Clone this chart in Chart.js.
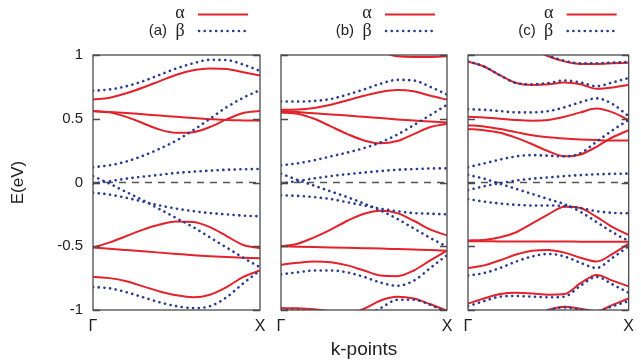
<!DOCTYPE html>
<html>
<head>
<meta charset="utf-8">
<script src="https://cdn.jsdelivr.net/npm/chart.js@4.4.1/dist/chart.umd.min.js"></script>
<style>
  html, body { margin: 0; padding: 0; background: #fff; }
  #wrap { position: relative; width: 641px; height: 362px; }
  #wrap canvas { position: absolute; left: 0; top: 0; }
</style>
</head>
<body>
<div id="wrap">
  <canvas id="panel-a" width="641" height="362"></canvas>
  <canvas id="panel-b" width="641" height="362"></canvas>
  <canvas id="panel-c" width="641" height="362"></canvas>
</div>
<script>
// k along Γ -> X, as a fraction of the path
const K = [0, 0.1, 0.2, 0.3, 0.4, 0.5, 0.6, 0.7, 0.8, 0.9, 1];
const K_TICKS = [0, 1];
const K_TICK_LABELS = ['Γ', 'X'];
const E_TICKS = [-1, -0.5, 0, 0.5, 1];
const E_TICK_LABELS = ['-1', '-0.5', '0', '0.5', '1'];
const ZERO = [0, 0, 0, 0, 0, 0, 0, 0, 0, 0, 0];

// (a)
const A_ALPHA = [
  [0.65, 0.665, 0.70, 0.745, 0.795, 0.845, 0.88, 0.895, 0.89, 0.865, 0.84],
  [0.56, 0.553, 0.545, 0.535, 0.525, 0.515, 0.505, 0.497, 0.49, 0.487, 0.485],
  [0.56, 0.55, 0.515, 0.465, 0.415, 0.39, 0.395, 0.435, 0.495, 0.545, 0.56],
  [-0.51, -0.47, -0.42, -0.37, -0.33, -0.305, -0.31, -0.35, -0.42, -0.49, -0.515],
  [-0.51, -0.52, -0.53, -0.54, -0.55, -0.56, -0.57, -0.578, -0.585, -0.59, -0.595],
  [-0.74, -0.75, -0.775, -0.815, -0.855, -0.885, -0.9, -0.88, -0.82, -0.74, -0.69],
];
const A_BETA = [
  [0.72, 0.73, 0.755, 0.795, 0.845, 0.895, 0.935, 0.962, 0.96, 0.925, 0.875],
  [0.12, 0.135, 0.165, 0.21, 0.265, 0.33, 0.41, 0.5, 0.59, 0.665, 0.725],
  [-0.01, 0.01, 0.03, 0.046, 0.06, 0.075, 0.085, 0.093, 0.1, 0.104, 0.106],
  [0.05, -0.01, -0.075, -0.14, -0.21, -0.28, -0.35, -0.43, -0.51, -0.59, -0.665],
  [-0.08, -0.095, -0.12, -0.15, -0.18, -0.205, -0.225, -0.24, -0.25, -0.26, -0.265],
  [-0.82, -0.83, -0.86, -0.9, -0.94, -0.97, -0.985, -0.97, -0.9, -0.79, -0.69],
];

// (b)
const B_ALPHA = [
  [null, null, null, null, null, 1.1, 1.03, 0.99, 0.985, 0.985, 0.99],
  [0.57, 0.572, 0.585, 0.61, 0.645, 0.68, 0.71, 0.725, 0.715, 0.68, 0.65],
  [0.56, 0.552, 0.543, 0.534, 0.525, 0.515, 0.505, 0.495, 0.486, 0.478, 0.47],
  [0.55, 0.54, 0.5, 0.44, 0.38, 0.33, 0.307, 0.325, 0.38, 0.435, 0.46],
  [-0.5, -0.48, -0.43, -0.37, -0.3, -0.245, -0.222, -0.24, -0.3, -0.37, -0.415],
  [-0.5, -0.503, -0.506, -0.509, -0.512, -0.515, -0.518, -0.522, -0.526, -0.53, -0.535],
  [-0.645, -0.63, -0.62, -0.625, -0.65, -0.69, -0.73, -0.735, -0.69, -0.61, -0.535],
  [-0.985, -0.987, -0.995, -1.01, -1.03, -0.99, -0.925, -0.896, -0.91, -0.955, -1.005],
];
const B_BETA = [
  [0.635, 0.635, 0.64, 0.655, 0.69, 0.73, 0.775, 0.805, 0.8, 0.75, 0.69],
  [0.135, 0.15, 0.175, 0.205, 0.235, 0.27, 0.315, 0.375, 0.45, 0.53, 0.61],
  [-0.01, 0.012, 0.032, 0.05, 0.065, 0.078, 0.09, 0.1, 0.105, 0.11, 0.111],
  [0.07, 0.02, -0.025, -0.07, -0.115, -0.165, -0.22, -0.285, -0.36, -0.435, -0.505],
  [-0.1, -0.105, -0.115, -0.13, -0.155, -0.18, -0.205, -0.225, -0.24, -0.245, -0.25],
  [-0.72, -0.705, -0.69, -0.69, -0.705, -0.74, -0.785, -0.81, -0.77, -0.67, -0.57],
  [-1.0, -1.0, -1.01, -1.03, -1.05, -1.04, -0.985, -0.92, -0.92, -0.96, -1.02],
];

// (c)
const C_ALPHA = [
  [null, null, null, 1.12, 1.05, 0.99, 0.95, 0.93, 0.93, 0.935, 0.94],
  [0.95, 0.91, 0.84, 0.78, 0.765, 0.77, 0.785, 0.77, 0.735, 0.745, 0.765],
  [0.515, 0.51, 0.5, 0.49, 0.485, 0.49, 0.515, 0.55, 0.58, 0.55, 0.49],
  [0.45, 0.44, 0.42, 0.395, 0.37, 0.355, 0.345, 0.338, 0.333, 0.33, 0.33],
  [0.42, 0.41, 0.39, 0.35, 0.3, 0.245, 0.205, 0.22, 0.28, 0.355, 0.41],
  [-0.455, -0.45, -0.43, -0.39, -0.32, -0.25, -0.19, -0.2, -0.27, -0.35, -0.41],
  [-0.46, -0.461, -0.462, -0.462, -0.463, -0.463, -0.463, -0.464, -0.464, -0.465, -0.465],
  [-0.67, -0.65, -0.61, -0.565, -0.535, -0.53, -0.55, -0.59, -0.62, -0.56, -0.48],
  [-0.95, -0.91, -0.875, -0.865, -0.87, -0.88, -0.875, -0.79, -0.725, -0.77, -0.815],
  [null, null, null, null, -1.05, -1.0, -0.975, -0.99, -1.01, -0.96, -0.91],
];
const C_BETA = [
  [null, null, null, 1.12, 1.05, 0.995, 0.955, 0.935, 0.935, 0.94, 0.945],
  [0.95, 0.91, 0.84, 0.78, 0.77, 0.78, 0.8, 0.785, 0.755, 0.785, 0.82],
  [0.575, 0.57, 0.56, 0.55, 0.55, 0.56, 0.59, 0.63, 0.66, 0.615, 0.52],
  [0.12, 0.15, 0.18, 0.205, 0.215, 0.21, 0.205, 0.23, 0.32, 0.41, 0.49],
  [-0.06, -0.03, -0.005, 0.015, 0.03, 0.04, 0.05, 0.058, 0.064, 0.068, 0.07],
  [0.06, 0.03, -0.01, -0.05, -0.09, -0.13, -0.17, -0.23, -0.31, -0.39, -0.46],
  [-0.13, -0.15, -0.165, -0.175, -0.18, -0.18, -0.185, -0.2, -0.225, -0.238, -0.242],
  [-0.73, -0.71, -0.67, -0.62, -0.58, -0.56, -0.58, -0.63, -0.67, -0.59, -0.5],
  [-0.97, -0.93, -0.895, -0.89, -0.895, -0.9, -0.895, -0.81, -0.74, -0.8, -0.865],
  [null, null, null, null, -1.05, -1.0, -0.98, -0.995, -1.01, -0.97, -0.93],
];

const RED = '#e3222b';
const BLUE = '#2b3c90';
const FRAME = '#4a4a4a';
const SANS = '"Liberation Sans", Arial, sans-serif';
const SERIF = '"Liberation Serif", "DejaVu Serif", serif';

function points(values) {
  return K.map((k, i) => ({ x: k, y: values[i] }));
}

// frame, inner ticks and the α/β key drawn around each panel
const panelDecor = {
  id: 'panelDecor',
  afterDatasetsDraw(chart, args, opts) {
    const { ctx, chartArea: a } = chart;
    const y = chart.scales.y;
    ctx.save();
    ctx.strokeStyle = FRAME;
    ctx.lineWidth = 1.3;
    ctx.strokeRect(a.left, a.top, a.right - a.left, a.bottom - a.top);
    E_TICKS.forEach((v) => {
      const py = Math.round(y.getPixelForValue(v)) + 0.5;
      ctx.beginPath();
      ctx.moveTo(a.left, py); ctx.lineTo(a.left + 7, py);
      ctx.moveTo(a.right, py); ctx.lineTo(a.right - 7, py);
      ctx.stroke();
    });

    const R = a.right;
    ctx.fillStyle = '#222';
    ctx.textBaseline = 'middle';
    ctx.font = '15px ' + SANS;
    ctx.textAlign = 'right';
    ctx.fillText(opts.tag, R - 93, 31);
    ctx.font = '18px ' + SERIF;
    ctx.textAlign = 'center';
    ctx.fillText('α', R - 80, 13);
    ctx.fillText('β', R - 80, 31);

    ctx.lineWidth = 2.2;
    ctx.strokeStyle = RED;
    ctx.beginPath(); ctx.moveTo(R - 62, 14.5); ctx.lineTo(R - 12, 14.5); ctx.stroke();
    ctx.strokeStyle = BLUE;
    ctx.lineWidth = 2.6;
    ctx.lineCap = 'round';
    ctx.setLineDash([0.1, 5.6]);
    ctx.beginPath(); ctx.moveTo(R - 61, 31); ctx.lineTo(R - 12, 31); ctx.stroke();
    ctx.restore();
  },
};

function makePanel(canvasId, tag, alpha, beta, left, right, first) {
  const datasets = [];
  beta.forEach((band) => datasets.push({
    data: points(band), borderColor: BLUE, borderWidth: 2.6,
    borderDash: [0.1, 5.6], borderCapStyle: 'round',
  }));
  alpha.forEach((band) => datasets.push({
    data: points(band), borderColor: RED, borderWidth: 2,
  }));
  datasets.push({
    data: points(ZERO), borderColor: '#555', borderWidth: 1.3,
    borderDash: [7, 6], order: 5, cubicInterpolationMode: 'default', tension: 0,
  });

  const yWidth = first ? 93 : 0;
  return new Chart(document.getElementById(canvasId), {
    type: 'line',
    data: { datasets },
    options: {
      responsive: false,
      animation: false,
      events: [],
      layout: { padding: { left: left - yWidth, right: 641 - right, top: 55, bottom: 0 } },
      elements: {
        point: { radius: 0 },
        line: { cubicInterpolationMode: 'monotone', fill: false },
      },
      plugins: {
        legend: { display: false },
        tooltip: { enabled: false },
        panelDecor: { tag },
      },
      scales: {
        x: {
          type: 'linear', min: 0, max: 1,
          grid: { display: false, drawTicks: false },
          border: { display: false },
          afterBuildTicks: (s) => { s.ticks = K_TICKS.map((v) => ({ value: v })); },
          afterFit: (s) => { s.height = 52; },
          ticks: {
            autoSkip: false, maxRotation: 0, padding: 7, color: '#222',
            font: { family: SANS, size: 16 },
            callback: (v) => K_TICK_LABELS[K_TICKS.indexOf(v)],
          },
          title: {
            display: canvasId === 'panel-b', text: 'k-points', color: '#222',
            font: { family: SANS, size: 19 }, padding: { top: 0, bottom: 1 },
          },
        },
        y: {
          min: -1, max: 1,
          grid: { display: false, drawTicks: false },
          border: { display: false },
          afterBuildTicks: (s) => { s.ticks = E_TICKS.map((v) => ({ value: v })); },
          afterFit: (s) => { s.width = yWidth; },
          ticks: {
            display: first, padding: 10, color: '#222',
            font: { family: SANS, size: 15 },
            callback: (v) => E_TICK_LABELS[E_TICKS.indexOf(v)],
          },
          title: {
            display: first, text: 'E(eV)', color: '#222',
            font: { family: SANS, size: 17 }, padding: { top: 8, bottom: 8 },
          },
        },
      },
    },
    plugins: [panelDecor],
  });
}

makePanel('panel-a', '(a)', A_ALPHA, A_BETA, 93, 260, true);
makePanel('panel-b', '(b)', B_ALPHA, B_BETA, 281, 447, false);
makePanel('panel-c', '(c)', C_ALPHA, C_BETA, 468, 633, false);
</script>
</body>
</html>
